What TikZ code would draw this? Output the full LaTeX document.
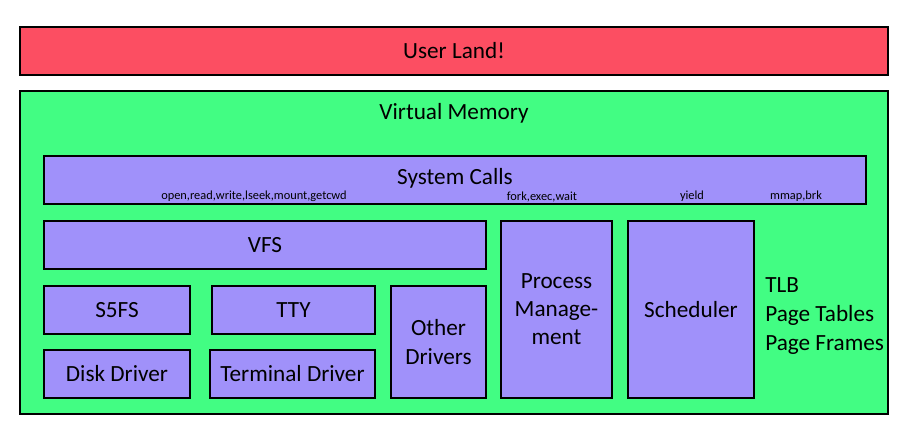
\documentclass[tikz,border=0pt]{standalone}
\usepackage{fontspec}
\setmainfont{Carlito}
\definecolor{user-red}{RGB}{252, 78, 98}
\definecolor{vm-green}{RGB}{66, 253, 131}
\definecolor{kern-purple}{RGB}{160, 145, 250}
\tikzset{
  layer/.style={draw, line width=1.4pt, rectangle, font=\fontsize{16.5}{20}\selectfont},
  part/.style={layer, fill=kern-purple, align=center},
  callnote/.style={font=\fontsize{8.8}{10}\selectfont, inner sep=0pt}
}
\begin{document}
\begin{tikzpicture}[x=0.025cm, y=-0.025cm]
\useasboundingbox (0,0) rectangle (906,430);
\node [layer, fill=user-red, minimum width=21.7cm, minimum height=1.2cm] (user) at (454,51) {User Land!};
\node [layer, fill=vm-green, minimum width=21.7cm, minimum height=8.075cm] (vm) at (454,252.5) {};
\node [font=\fontsize{16.5}{20}\selectfont] (vmlabel) at (454,113) {Virtual Memory};
% system calls row
\node [part, minimum width=20.55cm, minimum height=1.2cm] (syscalls) at (455,180) {};
\node [font=\fontsize{16.5}{20}\selectfont, inner sep=0pt] (sclabel) at (455,178) {System Calls};
\node [callnote] (fscalls) at (254,196.5) {open,read,write,lseek,mount,getcwd};
\node [callnote] (proccalls) at (542,196.5) {fork,exec,wait};
\node [callnote] (schedcall) at (692,196.5) {yield};
\node [callnote] (vmcalls) at (796,196.5) {mmap,brk};
% file side
\node [part, minimum width=11.05cm, minimum height=1.2cm] (vfs) at (265,245) {VFS};
\node [part, minimum width=3.65cm, minimum height=1.2cm] (s5fs) at (117,310) {S5FS};
\node [part, minimum width=4.075cm, minimum height=1.2cm] (tty) at (293.5,310) {TTY};
\node [part, minimum width=3.65cm, minimum height=1.2cm] (disk) at (117,374) {Disk Driver};
\node [part, minimum width=4.125cm, minimum height=1.2cm] (term) at (292.5,374) {Terminal Driver};
\node [part, minimum width=2.375cm, minimum height=2.8cm] (other) at (438.5,342) {Other\\Drivers};
% process side
\node [part, minimum width=2.775cm, minimum height=4.425cm] (proc) at (556.5,309.5) {Process\\Manage-\\ment};
\node [part, minimum width=3.15cm, minimum height=4.425cm] (sched) at (691,309.5) {Scheduler};
\node [anchor=west, align=left, inner sep=0pt, font=\fontsize{16.5}{20.6}\selectfont] (vmparts) at (765,316) {TLB\\Page Tables\\Page Frames};
\end{tikzpicture}
\end{document}
